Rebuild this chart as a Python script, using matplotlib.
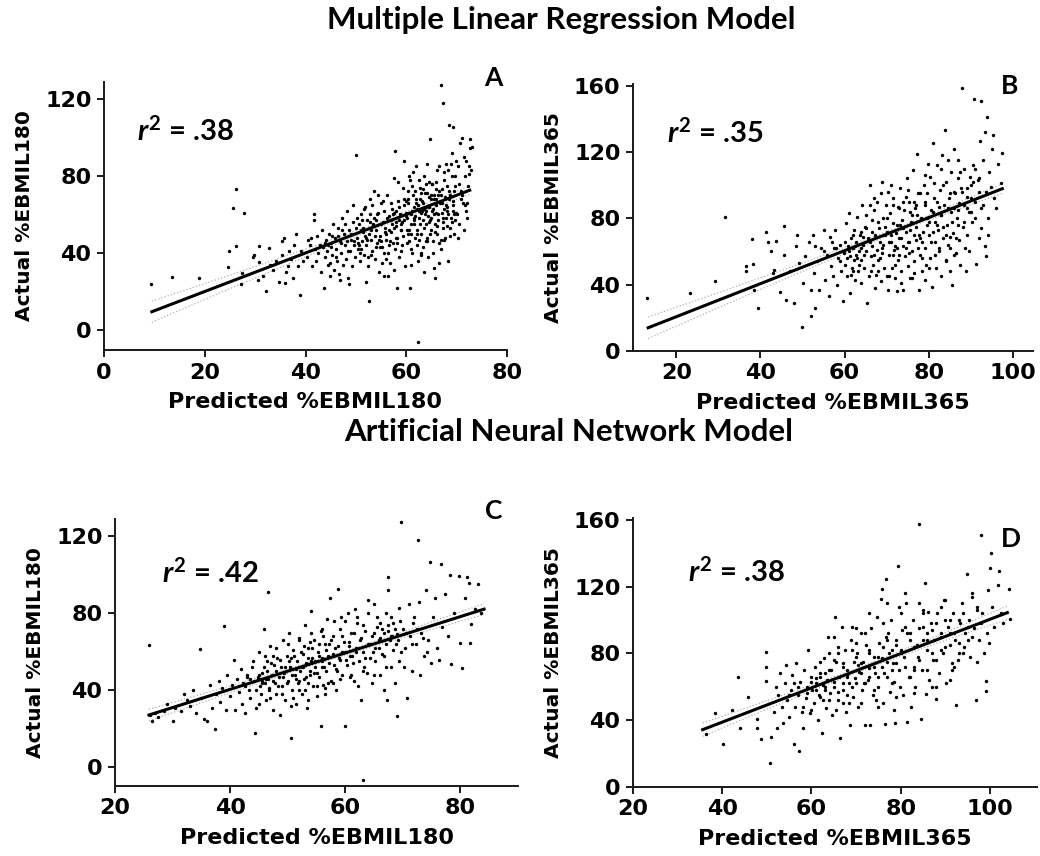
import numpy as np
import matplotlib
matplotlib.use("Agg")
import matplotlib.pyplot as plt

# ---- Panel A: multiple linear regression, %EBMIL180 ----
a_pred = [9.3, 13.4, 18.9, 24.7, 24.9, 25.6, 26.2, 26.2, 27.3, 27.7, 27.2, 29.8, 30.8, 30.5, 29.5,
          31.6, 32.1, 32.8, 30.7, 33.5, 34.8, 35.3, 35.4, 35.8, 36.0, 36.5, 36.8, 37.2, 37.8, 38.1, 38.5, 38.9, 39.2, 39.5, 36.2, 34.2, 33.0, 37.5,
          40.2, 40.5, 40.8, 41.2, 41.6, 41.7, 41.8, 42.1, 42.3, 42.5, 42.8, 43.0, 43.2, 43.4, 43.6, 43.8, 44.0, 44.2, 44.4, 44.6, 44.8, 45.0, 45.2,
          45.4, 45.6, 45.8, 46.0, 46.2, 46.4, 46.6, 46.8, 47.0, 47.2, 47.4, 47.6, 47.8, 48.0, 48.2, 48.4, 48.6, 48.8, 49.0, 49.2, 49.4, 49.6, 49.8,
          43.9, 45.1, 46.9, 48.7, 41.0, 44.9, 47.3, 49.5,
          50.1, 50.2, 50.4, 50.6, 50.8, 51.0, 51.2, 51.4, 51.6, 51.8, 52.0, 52.2, 52.4, 52.6, 52.7, 52.8, 53.0, 53.2, 53.4, 53.6, 53.8, 54.0, 54.2,
          54.4, 54.6, 54.8, 55.0, 55.2, 55.4, 55.6, 55.8, 56.0, 56.2, 56.4, 56.6, 56.8, 57.0, 57.2, 57.4, 57.6, 57.7, 57.8, 58.0, 58.1, 58.2, 58.4,
          58.6, 58.8, 59.0, 59.2, 59.4, 59.5, 59.6, 59.8, 50.5, 51.5, 52.5, 53.5, 54.5, 55.5, 56.5, 57.5, 58.5, 59.3, 50.9, 51.9, 52.9, 53.9, 54.9,
          55.9, 56.9, 57.9, 58.9, 59.9, 54.3, 56.3, 58.3, 52.1, 55.1, 57.3, 59.1, 53.3, 51.3, 56.7,
          60.1, 60.2, 60.4, 60.6, 60.7, 60.8, 61.0, 61.2, 61.4, 61.6, 61.8, 62.0, 62.2, 62.3, 62.4, 62.6, 62.8, 63.0, 63.2, 63.4, 63.6, 63.8, 64.0,
          64.2, 64.4, 64.6, 64.8, 65.0, 65.2, 65.4, 65.6, 65.8, 66.0, 66.2, 66.4, 66.6, 66.8, 66.9, 67.0, 67.2, 67.3, 67.4, 67.6, 67.8, 68.0, 68.2,
          68.4, 68.6, 68.8, 69.0, 69.2, 69.3, 69.4, 69.6, 69.8, 60.3, 60.9, 61.5, 62.1, 62.7, 63.3, 63.9, 64.5, 65.1, 65.7, 66.3, 66.9, 67.5, 68.1,
          68.7, 69.3, 60.5, 61.1, 61.7, 62.5, 63.1, 63.7, 64.3, 64.9, 65.5, 66.1, 66.7, 67.1, 67.9, 68.5, 69.1, 69.7, 61.3, 62.9, 64.1, 65.3, 66.5,
          68.3, 63.5, 64.7, 60.4, 61.9, 62.6, 63.4, 64.6, 65.9, 67.3, 68.9, 60.0, 65.0, 66.0, 67.7, 69.5,
          70.1, 70.3, 70.5, 70.7, 70.9, 71.0, 71.2, 71.4, 71.6, 71.7, 71.9, 72.1, 72.3, 72.6, 72.7, 72.9, 70.2, 70.8, 71.5, 72.0, 72.5, 73.0]
a_act = [24, 27.5, 27, 32.5, 41, 63.5, 73.5, 43.5, 29.5, 61, 24, 39, 43.5, 26, 38,
         28, 20, 42.5, 35.5, 31, 25, 39, 46, 48, 24.5, 33, 41, 37, 44, 50, 33, 18, 41, 36, 30, 36, 34, 27,
         38, 47, 44, 33, 60, 57, 42, 36, 49, 40, 44, 30, 52, 43, 22, 38, 47, 41, 34, 50, 28, 45, 39,
         55, 31, 48, 42, 36, 53, 29, 46, 40, 58, 34, 50, 44, 37, 62, 27, 52, 41, 47, 33, 56, 44, 38,
         45, 43, 26, 24, 48, 35, 52, 65,
         91, 48, 42, 55, 36, 60, 46, 51, 39, 64, 44, 57, 33, 50, 15, 68, 47, 41, 55, 72, 37, 52, 45,
         61, 30, 49, 66, 43, 56, 28, 53, 47, 70, 40, 59, 35, 51, 63, 45, 79, 93, 42, 56, 22, 48, 67,
         38, 60, 52, 44, 74, 88, 57, 33, 45, 53, 38, 58, 47, 62, 52, 31, 64, 49, 40, 49, 60, 43, 55,
         37, 66, 54, 41, 61, 70, 28, 77, 25, 35, 60, 56, 65, 57, 46,
         58, 45, 66, 52, 22, 78, 60, 40, 70, 55, 48, 85, 63, -6, 36, 58, 74, 50, 67, 43, 80, 60, 55,
         71, 38, 64, 99, 52, 76, 46, 68, 27, 61, 83, 57, 72, 42, 127.5, 66, 53, 118, 78, 48, 86, 62, 36,
         106.5, 70, 58, 92, 65, 105.5, 50, 75, 61, 72, 42, 64, 52, 68, 57, 46, 77, 62, 55, 70, 47, 63, 75,
         53, 67, 61, 75, 59, 47, 62, 71, 59, 68, 60, 50, 66, 73, 58, 68, 56, 80, 82, 39, 86, 40, 35,
         83, 30, 50, 50, 68, 62, 66, 56, 73, 56, 86, 67, 70, 65, 69, 72,
         60, 85, 55, 97, 72, 99.5, 66, 52, 80, 65, 88, 58, 75, 94.5, 99, 83, 48, 68, 90, 66, 81, 95]
# more points from the dense part of the cloud, as (predicted, actual)
a_dense = [(45.3, 49), (46.1, 38), (47.1, 45), (47.9, 55), (48.5, 41), (49.1, 50), (49.7, 46), (50.3, 58), (50.7, 44),
           (51.1, 52), (51.7, 63), (52.3, 47), (52.9, 56), (53.1, 39), (53.7, 49), (54.1, 60), (54.7, 43), (55.3, 67),
           (55.7, 51), (56.1, 58), (56.5, 44), (57.1, 55), (57.5, 61), (58.0, 48), (58.5, 57), (59.0, 52), (59.5, 65),
           (60.0, 59), (60.3, 68), (60.6, 46), (60.9, 55), (61.2, 62), (61.5, 58), (61.8, 72), (62.1, 50), (62.4, 65),
           (62.7, 55), (63.0, 61), (63.3, 73), (63.6, 53), (63.9, 64), (64.2, 48), (64.5, 69), (64.8, 57), (65.1, 76),
           (65.4, 63), (65.7, 51), (66.0, 68), (66.3, 60), (66.6, 45), (66.9, 70), (67.2, 58), (67.5, 82), (67.8, 65),
           (68.1, 54), (68.4, 72), (68.7, 49), (69.0, 80), (69.3, 62), (69.6, 57), (69.9, 88), (70.4, 76), (71.1, 70),
           (71.8, 62), (72.4, 85), (56.0, 50), (57.0, 57), (58.0, 62), (59.0, 55), (60.0, 60), (61.0, 50), (62.0, 66),
           (63.0, 71), (64.0, 62), (65.0, 58), (66.0, 77), (67.0, 61), (68.0, 64), (55.5, 40), (57.5, 53), (59.5, 68),
           (61.5, 57), (63.5, 63), (65.5, 70), (67.5, 47), (69.5, 60), (58.2, 45), (60.2, 52), (62.2, 44), (64.2, 46),
           (66.2, 54), (68.2, 60), (44.5, 44), (46.5, 49), (48.3, 46), (50.0, 53), (51.0, 42), (52.0, 48), (53.0, 52),
           (54.0, 57), (55.0, 46), (60.5, 80), (62.5, 78), (64.0, 76), (66.5, 85), (61.0, 34), (63.0, 40), (65.5, 32)]

# ---- Panel B: multiple linear regression, %EBMIL365 ----
b_pred = [12.9, 23.2, 29.3, 31.6, 36.5, 36.5, 38.0, 38.2, 38.5, 39.4, 41.2, 41.8, 42.5, 43.0, 43.2, 43.8, 44.6, 45.7, 46.1, 45.5,
          47.0, 48.0, 48.5, 48.8, 49.2, 49.9, 50.2, 50.5, 51.5, 52.0, 52.1, 53.0, 52.5, 52.8, 53.5, 54.0, 54.5, 55.0, 55.3, 55.8,
          56.2, 56.5, 56.8, 57.2, 57.5, 57.8, 58.2, 58.5, 58.8, 59.2, 59.5, 59.8,
          60.2, 60.4, 60.6, 60.8, 61.0, 61.2, 61.4, 61.6, 61.8, 62.0, 62.2, 62.4, 62.6, 62.8, 63.0, 63.2, 63.4, 63.6, 63.8, 64.0,
          64.2, 64.4, 64.6, 64.8, 65.0, 65.3, 65.5, 65.7, 66.0, 66.2, 66.4, 66.6, 66.8, 67.0, 67.2, 67.4, 67.6, 67.8, 68.0, 68.2,
          68.4, 68.6, 68.8, 69.0, 69.2, 69.4, 69.6, 69.8, 61.5, 63.5, 65.2, 67.3, 68.7, 62.3, 64.3, 66.3, 69.1,
          70.0, 70.2, 70.4, 70.6, 70.8, 71.0, 71.2, 71.4, 71.6, 71.8, 72.0, 72.2, 72.4, 72.6, 72.8, 73.0, 73.2, 73.4, 73.6, 73.8,
          74.0, 74.2, 74.4, 74.6, 74.8, 75.0, 75.2, 75.4, 75.6, 75.8, 76.0, 76.2, 76.4, 76.6, 76.8, 77.0, 77.3, 77.5, 77.8, 78.0,
          78.2, 78.4, 78.6, 78.8, 79.0, 79.2, 79.4, 79.6, 79.8, 70.5, 71.5, 72.5, 73.5, 74.5, 75.5, 76.5, 77.2, 78.5, 79.5, 73.1,
          75.3, 77.6, 79.1,
          80.0, 80.2, 80.4, 80.6, 80.8, 81.0, 81.2, 81.4, 81.6, 81.8, 82.0, 82.2, 82.4, 82.6, 82.8, 83.0, 83.2, 83.4, 83.6, 83.8,
          84.0, 84.2, 84.4, 84.6, 84.8, 85.0, 85.2, 85.4, 85.6, 85.8, 86.1, 86.3, 86.5, 86.7, 86.9, 87.1, 87.3, 87.5, 87.7, 88.0,
          88.2, 88.4, 88.6, 88.9, 89.2, 89.5, 89.8, 81.3, 83.3, 85.1, 87.0, 89.0, 82.5, 84.5, 86.0, 88.5,
          90.0, 90.3, 90.7, 90.6, 91.0, 91.3, 91.6, 92.0, 92.2, 92.5, 92.4, 92.8, 93.3, 93.3, 93.5, 93.8, 93.6, 94.0, 94.4, 95.1,
          95.2, 95.5, 96.0, 96.5, 97.2, 97.5, 92.0, 94.8]
b_act = [32, 35, 42, 81, 51.5, 48.5, 67.5, 52.5, 37, 26, 72, 65.5, 60, 47, 49, 66.5, 35.5, 75.5, 30.5, 58,
         48, 29, 63, 70, 53, 14.5, 41, 57, 66, 21, 36.5, 26, 70, 47, 54, 36.5, 62, 73, 43, 58,
         33, 69, 51, 45, 62, 73, 40, 56, 64, 48, 30, 59,
         52, 77, 45, 63, 83, 57, 35, 68, 50, 62, 73, 43, 58, 66, 81, 48, 60, 70, 41, 55,
         88, 64, 50, 75, 60, 29, 68, 45, 100, 57, 79, 63, 52, 85, 70, 46, 61, 90, 55, 74,
         66, 42, 102, 59, 80, 50, 70, 88, 46, 52, 82, 38, 95, 55, 69, 48, 64,
         72, 37, 96, 58, 83, 66, 50, 77, 92, 61, 44, 71, 36, 87, 55, 68, 98, 48, 79, 63,
         37, 85, 57, 72, 104, 51, 66, 90, 44, 78, 60, 109, 70, 54, 86, 67, 119, 95, 36.5, 58,
         80, 48, 72, 100, 62, 88, 52, 76, 113, 45, 88, 62, 41, 93, 73, 47, 82, 66, 95, 76,
         59, 70, 43,
         70, 105, 56, 85, 38.5, 125.5, 92, 66, 78, 50, 112, 73, 60, 97, 82, 45, 118, 68, 88, 133,
         55, 102, 76, 64, 92, 48, 84, 108, 39.5, 71, 122, 95, 59, 80, 104, 67, 89, 52, 98, 158.5,
         75, 110, 62, 48.5, 93, 84, 105, 101, 75, 69, 85, 70, 87, 115, 58, 88,
         100, 78, 151.8, 112, 90, 52.5, 103, 68, 126.5, 151, 86, 115, 132, 63.5, 57.5, 141, 96, 80, 108, 121.5,
         130.5, 92, 86, 113, 101.5, 119.5, 104, 99]
b_dense = [(58, 62), (59, 54), (60, 66), (61, 60), (62, 70), (63, 56), (64, 62), (65, 74), (66, 66), (67, 58), (68, 78),
           (69, 62), (70, 80), (71, 70), (72, 63), (73, 86), (74, 74), (75, 66), (76, 82), (77, 75), (78, 68), (79, 90),
           (80, 78), (81, 72), (82, 90), (83, 82), (84, 70), (85, 95), (86, 86), (87, 76), (88, 96), (89, 86), (90, 92),
           (91, 80), (92, 96), (60.5, 56), (62.5, 63), (64.5, 58), (66.5, 72), (68.5, 56), (70.5, 66), (72.5, 76),
           (74.5, 62), (76.5, 90), (78.5, 56), (80.5, 66), (82.5, 62), (84.5, 86), (86.5, 68), (88.5, 78), (90.5, 102),
           (92.5, 74), (69.5, 75), (71.5, 58), (73.5, 68), (75.5, 84), (77.5, 62), (79.5, 80), (81.5, 58), (83.5, 100),
           (85.5, 78), (87.5, 108), (89.5, 60), (71, 100), (75, 97), (79, 106), (83, 110), (87, 115), (76, 44), (80, 50),
           (84, 54), (72, 52), (68, 48), (74, 90), (78, 95), (82, 76), (86, 96), (90, 84), (66, 88), (64, 72), (62, 48),
           (57, 66), (55, 60), (53, 63), (67, 92), (70, 45), (73, 58), (77, 88), (81, 84), (85, 62), (89, 98), (91, 110),
           (93, 88), (94, 70)]

# ---- Panel C: artificial neural network, %EBMIL180 ----
c_pred = [25.9, 26.4, 26.0, 27.0, 27.5, 28.5, 29.0, 30.0, 30.5, 31.5, 32.0, 32.5, 33.0, 33.5, 34.0, 34.8, 35.0, 35.5, 36.0, 36.5,
          36.8, 37.4, 37.5, 38.0, 38.2, 38.5, 39.0, 39.2, 39.5, 40.0, 40.3, 40.6, 40.8, 41.2, 41.5, 41.8, 42.0, 42.3, 42.6, 42.9,
          43.2, 43.5, 43.8, 44.1, 44.3, 44.5, 44.8, 45.0, 45.2, 45.4, 45.6, 45.8, 46.0, 46.2, 46.4, 46.5, 46.6, 46.8, 47.0, 47.2,
          47.4, 47.6, 47.8, 48.0, 48.2, 48.4, 48.6, 48.8, 49.0, 49.2, 49.4, 49.6, 49.8,
          50.0, 50.2, 50.4, 50.6, 50.8, 51.0, 51.2, 51.4, 51.6, 51.8, 52.0, 52.2, 52.4, 52.6, 52.8, 53.0, 53.2, 53.4, 53.6, 53.8,
          54.0, 54.2, 54.4, 54.6, 54.8, 55.0, 55.2, 55.4, 55.7, 55.8, 56.0, 56.2, 56.4, 56.6, 56.8, 57.0, 57.3, 57.5, 57.8, 58.0,
          58.2, 58.4, 58.7, 58.9, 59.1, 59.4, 59.7, 60.0, 60.2, 60.4, 50.5, 51.5, 52.5, 53.5, 54.5, 55.5, 56.5, 57.2, 58.6, 59.5,
          53.9, 55.9, 57.9, 59.3, 51.9, 52.9, 54.1, 56.1,
          60.6, 60.8, 61.0, 61.3, 61.6, 61.9, 62.2, 62.5, 62.8, 63.0, 63.1, 63.4, 63.7, 64.0, 64.3, 64.6, 64.9, 65.2, 65.5, 65.8,
          66.1, 66.4, 66.7, 67.0, 67.2, 67.4, 67.4, 67.7, 68.0, 68.3, 68.6, 69.0, 69.4, 69.7, 69.0, 69.7, 60.9, 62.0, 63.3, 64.8,
          66.0, 67.5, 68.8, 61.5, 65.0, 66.8, 68.1, 69.3,
          70.0, 70.4, 70.7, 71.0, 71.3, 71.6, 72.0, 72.3, 72.6, 72.8, 73.2, 73.6, 74.0, 74.4, 74.7, 74.8, 75.2, 75.6, 76.0, 76.6,
          76.8, 77.4, 78.1, 78.3, 78.8, 79.7, 80.0, 80.3, 80.8, 81.2, 81.5, 81.7, 81.9, 82.5, 83.0, 83.5, 70.2, 71.8, 73.0, 74.2,
          76.3, 77.8]
c_act = [63.3, 23.8, 27, 28, 26, 29, 33, 24, 31, 29, 38, 35, 32, 40, 28, 61.4, 36, 25, 24, 43,
         31, 19.8, 38, 45, 34, 41, 73.5, 30, 48, 37, 43, 56, 30, 46, 39, 51, 33, 44, 28, 48,
         40, 36, 52, 45, 17.7, 31, 47, 60, 42, 38, 49, 72, 44, 35, 55, 91, 46, 41, 63, 48,
         30, 53, 44, 38, 57, 47, 27, 52, 42, 66, 49, 35, 58,
         45, 70, 52, 15, 40, 61, 48, 33, 55, 44, 67, 50, 38, 59, 46, 74, 54, 31, 62, 48,
         81, 57, 42, 66, 52, 37, 60, 47, 21.5, 71, 55, 43, 64, 50, 77, 58, 88, 45, 68, 53,
         62, 40, 92.6, 57, 72, 48, 65, 21.5, 56, 80, 57, 46, 52, 44, 49, 58, 41, 64, 50, 60,
         65, 52, 44, 78, 40, 63, 55, 68,
         63, 47, 70, 54, 82, 60, 42, 66, 35, -6.6, 74, 57, 49, 87, 64, 44, 70, 55, 78, 62,
         48, 72, 58, 80, 35, 98.7, 92, 66, 52, 75, 44, 69, 83, 127.5, 26.7, 60, 58, 75, 52, 60,
         67, 71, 64, 45, 85, 40, 68, 55,
         72, 62, 35.9, 85, 68, 50, 78, 64, 118.3, 86, 70, 58, 92, 66, 106.5, 54.4, 78, 88, 62, 105.6,
         73, 90, 100, 53.8, 80, 99.2, 64.5, 51.5, 88, 98.8, 95.7, 64.5, 74.6, 82, 95, 80, 52, 75, 48, 60,
         56, 68]
c_dense = [(42.5, 42), (43.5, 46), (44.5, 40), (45.0, 48), (45.5, 44), (45.9, 52), (46.3, 46), (46.7, 40), (47.1, 54),
           (47.5, 45), (47.9, 50), (48.3, 42), (48.7, 56), (49.1, 47), (49.5, 52), (49.9, 44), (50.3, 55), (50.7, 48),
           (51.1, 58), (51.5, 51), (51.9, 45), (52.3, 60), (52.7, 52), (53.1, 47), (53.5, 57), (53.9, 50), (54.3, 62),
           (54.7, 55), (55.1, 49), (55.5, 64), (55.9, 57), (56.3, 52), (56.7, 61), (57.1, 54), (57.5, 66), (57.9, 59),
           (58.3, 51), (58.7, 63), (59.1, 56), (59.5, 68), (59.9, 60), (60.3, 53), (60.7, 65), (61.1, 58), (61.5, 70),
           (61.9, 62), (62.3, 55), (62.7, 67), (63.1, 60), (63.5, 71), (63.9, 64), (64.3, 57), (64.7, 68), (65.1, 62),
           (65.5, 73), (65.9, 66), (66.3, 59), (66.7, 70), (67.1, 64), (67.5, 74), (67.9, 68), (68.3, 61), (68.7, 72),
           (69.1, 66), (69.5, 76), (70.5, 70), (71.5, 64), (72.5, 72), (73.5, 67), (46, 58), (47, 36), (48, 62), (49, 38),
           (50, 64), (51, 36), (52, 66), (53, 40), (54, 70), (55, 42), (56, 72), (57, 44), (58, 76), (59, 46), (60, 76),
           (61, 48), (62, 78), (63, 50), (64, 80), (65, 48), (66, 75), (67, 52), (68, 78), (44, 55), (45, 33), (47.5, 58),
           (50.5, 32), (53.5, 35), (56.5, 38), (43, 47), (44.8, 46), (46.4, 50), (45.6, 45)]

# ---- Panel D: artificial neural network, %EBMIL365 ----
d_pred = [36.4, 38.3, 40.2, 42.2, 43.6, 43.9, 45.8, 47.7, 47.8, 48.6, 49.8, 49.9, 49.7, 50.8, 51.0, 51.5, 52.0, 52.3, 52.6, 53.0,
          53.3, 53.6, 54.0, 54.3, 54.6, 55.0, 55.3, 55.6, 56.0, 56.3, 56.6, 57.0, 57.2, 57.5, 57.8, 58.1, 58.4, 58.7, 59.0, 59.3,
          59.6, 59.9,
          60.2, 60.5, 60.8, 61.1, 61.4, 61.7, 62.0, 62.3, 62.6, 62.9, 63.2, 63.5, 63.8, 64.1, 64.4, 64.7, 65.0, 65.3, 65.6, 65.9,
          66.2, 66.5, 66.8, 67.1, 67.4, 67.7, 68.0, 68.3, 68.6, 68.9, 69.2, 69.5, 69.8, 61.0, 62.5, 64.0, 65.5, 67.0, 68.5, 69.9,
          63.0, 66.0, 67.9,
          70.1, 70.4, 70.7, 71.0, 71.3, 71.6, 72.0, 72.3, 72.6, 73.1, 73.4, 73.7, 74.0, 74.3, 74.6, 74.9, 75.2, 75.5, 75.7, 75.8,
          76.1, 76.4, 76.8, 76.7, 77.0, 77.3, 77.6, 77.9, 78.2, 78.5, 78.7, 79.0, 79.3, 79.6, 79.9, 70.5, 71.8, 73.0, 74.5, 75.9,
          77.1, 78.4, 79.7, 72.8, 76.2,
          80.2, 80.5, 80.8, 81.1, 81.5, 81.8, 82.1, 82.4, 82.7, 83.0, 83.3, 83.6, 84.1, 84.0, 84.5, 84.8, 85.1, 85.4, 85.6, 86.0,
          86.4, 86.8, 87.2, 87.5, 87.9, 88.2, 88.6, 89.0, 89.4, 89.8, 90.2, 90.6, 91.0, 91.4, 91.8, 92.2, 92.5, 92.9, 93.3, 93.7,
          94.1, 94.5, 94.8, 80.0, 81.3, 83.8, 86.2, 88.0, 90.0, 91.6, 93.0,
          95.2, 95.6, 96.0, 96.4, 96.8, 97.2, 97.6, 98.0, 98.3, 98.6, 99.1, 99.1, 99.3, 99.6, 100.1, 100.2, 100.5, 101.0, 101.9, 102.1,
          102.5, 103.0, 104.3, 104.5, 97.0, 99.8]
d_act = [31.4, 44, 25.8, 46, 66, 35.4, 53.7, 35.4, 40.7, 28.8, 80.5, 71.6, 63.2, 14.3, 29.8, 45, 60, 35, 55, 68,
         48, 38, 62, 73, 52, 42, 58, 67, 25.8, 48, 74, 55, 21.3, 63, 45, 35, 70, 53, 60, 82,
         44, 66,
         58, 50, 72, 62, 40, 55, 68, 32, 61, 77, 47, 64, 90, 56, 70, 43, 60, 102, 75, 52,
         66, 29.2, 96, 58, 82, 45, 70, 62, 37, 88, 54, 75, 65, 65, 52, 80, 46, 72, 50, 95,
         58, 84, 67,
         80, 48, 69, 92, 58, 75, 36.8, 85, 64, 36.8, 95, 55, 78, 68, 102, 60, 86, 112.3, 118.3, 72,
         50, 37.8, 124.6, 90, 66, 80, 57, 100, 74, 46, 38.2, 85, 132.2, 70, 60, 73, 62, 82, 52, 77,
         92, 63, 108, 71, 68,
         94, 55, 78, 110, 38.8, 66, 88, 48, 100, 72, 60, 85, 157.4, 95, 40.7, 70, 106, 122.2, 55.3, 82,
         64, 98, 76, 88, 52.7, 104, 68, 92, 80, 112, 62, 96, 85, 74, 104, 88, 48.7, 76, 98, 110,
         84, 92, 127.8, 82, 92, 78, 105, 60, 100, 70, 80,
         100, 78, 114, 95, 52, 106, 88, 151, 104, 80, 57.6, 63.2, 92, 118, 131.2, 140, 108, 96, 121.2, 129.2,
         104, 98, 118.7, 100.8, 75, 86]
d_dense = [(55, 55), (57, 60), (59, 56), (60, 63), (61, 58), (62, 66), (63, 60), (64, 70), (65, 63), (66, 57), (67, 74),
           (68, 66), (69, 60), (70, 78), (71, 68), (72, 62), (73, 80), (74, 72), (75, 66), (76, 84), (77, 75), (78, 70),
           (79, 88), (80, 80), (81, 72), (82, 92), (83, 84), (84, 76), (85, 96), (86, 88), (87, 80), (88, 98), (89, 90),
           (90, 84), (91, 100), (92, 92), (93, 86), (94, 104), (95, 96), (96, 90), (97, 108), (58, 48), (60, 46), (62, 75),
           (64, 52), (66, 80), (68, 55), (70, 62), (72, 92), (74, 58), (76, 98), (78, 62), (80, 104), (82, 66), (84, 110),
           (86, 70), (88, 76), (90, 112), (92, 72), (94, 80), (96, 116), (98, 98), (56, 62), (63, 68), (65, 76), (67, 62),
           (69, 82), (71, 74), (73, 66), (75, 78), (77, 88), (79, 74), (81, 96), (83, 70), (85, 88), (87, 94), (89, 82),
           (91, 92), (93, 100), (95, 88), (67, 50), (71, 50), (75, 48), (79, 54), (83, 56), (87, 60), (91, 64), (65, 90),
           (69, 96), (73, 104), (77, 110), (81, 116), (85, 104), (89, 108), (62, 54), (70, 86), (78, 82), (86, 92)]

# fitted lines (slope, intercept, x start, x end) and 95% band half-widths
fit_a = [1.0, 0.0, 9.5, 72.6]
fit_b = [0.996, 0.75, 13.3, 97.5]
fit_c = [0.945, 2.7, 25.9, 84.1]
fit_d = [1.028, -2.4, 35.6, 103.9]
band_x_a, band_w_a = [9.5, 25, 40, 55, 72.6], [5.5, 3.5, 2.0, 1.2, 2.2]
band_x_b, band_w_b = [13.3, 30, 50, 75, 97.5], [6.5, 4.5, 2.5, 1.2, 2.8]
band_x_c, band_w_c = [25.9, 40, 55, 70, 84.1], [3.0, 1.8, 1.0, 1.5, 2.8]
band_x_d, band_w_d = [35.6, 50, 70, 85, 103.9], [4.0, 2.5, 1.2, 1.8, 4.0]

r2_values = ['.38', '.35', '.42', '.38']
panel_letters = ['A', 'B', 'C', 'D']
x_labels = ['Predicted %EBMIL180', 'Predicted %EBMIL365', 'Predicted %EBMIL180', 'Predicted %EBMIL365']
y_labels = ['Actual %EBMIL180', 'Actual %EBMIL365', 'Actual %EBMIL180', 'Actual %EBMIL365']
x_ticks = [[0, 20, 40, 60, 80], [20, 40, 60, 80, 100], [20, 40, 60, 80], [20, 40, 60, 80, 100]]
y_ticks = [[0, 40, 80, 120], [0, 40, 80, 120, 160], [0, 40, 80, 120], [0, 40, 80, 120, 160]]
x_lims = [(0, 80), (9.7, 104.8), (20, 90), (20, 110.5)]
y_lims = [(-10.4, 129), (0, 161), (-9.7, 129), (0, 161)]

plt.rcParams['font.family'] = 'DejaVu Sans'
plt.rcParams['font.weight'] = 'bold'
plt.rcParams['mathtext.fontset'] = 'custom'
plt.rcParams['mathtext.rm'] = 'Lato:bold'
plt.rcParams['mathtext.it'] = 'Lato:italic:bold'

fig = plt.figure(figsize=(10.4, 8.56), dpi=100)

# axes boxes in figure fractions
boxes = [[0.100, 0.5911, 0.3875, 0.3135],
         [0.6087, 0.5900, 0.3846, 0.3119],
         [0.1106, 0.0818, 0.3875, 0.3119],
         [0.6087, 0.0810, 0.3882, 0.3135]]
r2_pos = [(0.082, 0.816), (0.085, 0.816), (0.117, 0.80), (0.136, 0.80)]
letter_pos = [(0.965, 1.012), (0.9425, 0.994), (0.940, 1.03), (0.936, 0.923)]


def unzip(points):
    return [p[0] for p in points], [p[1] for p in points]


panels = [(a_pred + unzip(a_dense)[0], a_act + unzip(a_dense)[1], fit_a, band_x_a, band_w_a),
          (b_pred + unzip(b_dense)[0], b_act + unzip(b_dense)[1], fit_b, band_x_b, band_w_b),
          (c_pred + unzip(c_dense)[0], c_act + unzip(c_dense)[1], fit_c, band_x_c, band_w_c),
          (d_pred + unzip(d_dense)[0], d_act + unzip(d_dense)[1], fit_d, band_x_d, band_w_d)]

for i, (px, py, fit, bx, bw) in enumerate(panels):
    ax = fig.add_axes(boxes[i])
    ax.scatter(px, py, s=6, color='black', linewidths=0, zorder=3)

    # regression line and dotted confidence band
    slope, icpt, x0, x1 = fit
    lx = np.array([x0, x1])
    ax.plot(lx, slope * lx + icpt, color='black', lw=2.2, zorder=4)
    bx = np.array(bx)
    bw = np.array(bw)
    for sign in (1, -1):
        ax.plot(bx, slope * bx + icpt + sign * bw, color='#b0b0b0', lw=0.9, ls=':', zorder=2)

    ax.set_xlim(*x_lims[i])
    ax.set_ylim(*y_lims[i])
    ax.set_xticks(x_ticks[i])
    ax.set_yticks(y_ticks[i])
    for side in ('top', 'right'):
        ax.spines[side].set_visible(False)
    for side in ('left', 'bottom'):
        ax.spines[side].set_linewidth(1.4)
        ax.spines[side].set_color('#1a1a1a')
    ax.tick_params(direction='out', length=5, width=1.4, color='#1a1a1a',
                   labelsize=16, pad=4)
    for lab in ax.get_xticklabels() + ax.get_yticklabels():
        lab.set_fontweight('bold')

    ax.set_xlabel(x_labels[i], fontsize=16, fontweight='bold', labelpad=7)
    ax.set_ylabel(y_labels[i], fontsize=14.5, fontweight='bold', labelpad=8)

    ax.text(r2_pos[i][0], r2_pos[i][1], r'$r^2$ = ' + r2_values[i], transform=ax.transAxes,
            fontsize=21, family='Lato', fontweight='bold', ha='left', va='center')
    ax.text(letter_pos[i][0], letter_pos[i][1], panel_letters[i], transform=ax.transAxes,
            fontsize=19, family='Lato', fontweight='bold', ha='center', va='center')

fig.text(0.54, 0.977, 'Multiple Linear Regression Model', fontsize=22.5, family='Lato',
         fontweight='bold', ha='center', va='center')
fig.text(0.547, 0.495, 'Artificial Neural Network Model', fontsize=22.5, family='Lato',
         fontweight='bold', ha='center', va='center')

fig.savefig('out.png', dpi=100)
